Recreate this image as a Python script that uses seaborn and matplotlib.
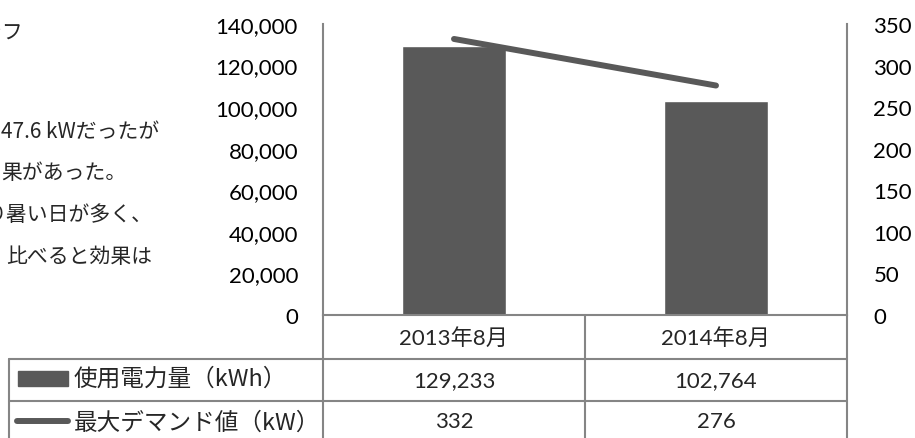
import matplotlib
matplotlib.use('Agg')
import matplotlib.pyplot as plt
import matplotlib.ticker as mticker
import matplotlib.transforms as mtrans
from matplotlib.lines import Line2D
from matplotlib.patches import Rectangle
import numpy as np
import pandas as pd
import seaborn as sns

# data
months = ['2013年8月', '2014年8月']
usage_kwh = [129233, 102764]
demand_kw = [332, 276]
usage_label = '使用電力量（kWh）'
demand_label = '最大デマンド値（kW）'
side_text = ['ラフ', '47.6 kWだったが', '果があった。', 'り暑い日が多く、', '比べると効果は']

sns.set_style('white')
plt.rcParams['font.family'] = ['Lato', 'Noto Sans CJK JP']

W, H = 915, 439
dark = '#595959'
line_grey = '#858585'

fig = plt.figure(figsize=(W / 100, H / 100), dpi=100)
ax = fig.add_axes([323 / W, 1 - 316 / H, 524 / W, 291 / H])

df = pd.DataFrame({'month': months, 'usage': usage_kwh, 'demand': demand_kw,
                   'pos': np.arange(len(months))})

sns.barplot(data=df, x='month', y='usage', color=dark, saturation=1, width=0.4, ax=ax)
ax.set_ylim(0, 140000)
ax.set_yticks(np.arange(0, 140001, 20000))
ax.yaxis.set_major_formatter(mticker.StrMethodFormatter('{x:,.0f}'))
ax.set_xticks([])
ax.set_xlabel('')
ax.set_ylabel('')

ax2 = ax.twinx()
sns.lineplot(data=df, x='pos', y='demand', color=dark, lw=4.3,
             solid_capstyle='round', ax=ax2)
ax2.set_ylim(0, 350)
ax2.set_yticks(np.arange(0, 351, 50))
ax2.set_ylabel('')
ax.set_xlim(-0.5, len(months) - 0.5)

for a in (ax, ax2):
    for s in a.spines.values():
        s.set_visible(False)
ax.spines['left'].set_visible(True)
ax.spines['bottom'].set_visible(True)
ax2.spines['right'].set_visible(True)
for s in (ax.spines['left'], ax.spines['bottom'], ax2.spines['right']):
    s.set_color(line_grey)
    s.set_linewidth(1.5)

ax.tick_params(axis='y', length=0, pad=18, labelsize=16, labelcolor='black')
ax2.tick_params(axis='y', length=0, pad=19, labelsize=16, labelcolor='black')

# data table under the chart
def fpx(x, y):
    return x / W, 1 - y / H

blend = mtrans.blended_transform_factory(ax.transData, fig.transFigure)
col_edges = np.arange(len(months) + 1) - 0.5
row_y = [316, 360, 402, 444]

for yy in row_y[1:3]:
    x0, y0 = fpx(9, yy)
    x1, _ = fpx(847, yy)
    fig.add_artist(Line2D([x0, x1], [y0, y0], color=line_grey, lw=1.5))
for ce in col_edges:
    fig.add_artist(Line2D([ce, ce], [fpx(0, 316)[1], fpx(0, 444)[1]],
                          color=line_grey, lw=1.5, transform=blend))
fig.add_artist(Line2D([fpx(9, 0)[0]] * 2, [fpx(0, 360)[1], fpx(0, 444)[1]],
                      color=line_grey, lw=1.5))

cell_y = [338, 381, 422]
for i, m in enumerate(months):
    fig.text(i, fpx(0, cell_y[0])[1], m, transform=blend, ha='center', va='center', fontsize=16)
    fig.text(i, fpx(0, cell_y[1])[1], f'{usage_kwh[i]:,}', transform=blend,
             ha='center', va='center', fontsize=16)
    fig.text(i, fpx(0, cell_y[2])[1], f'{demand_kw[i]:,}', transform=blend,
             ha='center', va='center', fontsize=16)

# legend keys in the row labels
rx, ry = fpx(18, 387)
fig.add_artist(Rectangle((rx, ry), 50 / W, 15 / H, color=dark))
lx0, ly = fpx(17, 422)
lx1, _ = fpx(68, 422)
fig.add_artist(Line2D([lx0, lx1], [ly, ly], color=dark, lw=4.3, solid_capstyle='round'))
fig.text(*fpx(74, 379), usage_label, ha='left', va='center', fontsize=17,
         family=['Noto Sans CJK JP'])
fig.text(*fpx(74, 423), demand_label, ha='left', va='center', fontsize=17,
         family=['Noto Sans CJK JP'])

# note text on the left, cut off by the picture edge as in the reference
side_y = [33, 132, 173, 215, 257]
side_x = [(23, 'right'), (1, 'left'), (1, 'left'), (153, 'right'), (152, 'right')]
for t, yy, (xx, ha) in zip(side_text, side_y, side_x):
    fig.text(*fpx(xx, yy), t, ha=ha, va='center', fontsize=15,
             family=['Noto Sans CJK JP'])

fig.savefig('out.png', dpi=100)
